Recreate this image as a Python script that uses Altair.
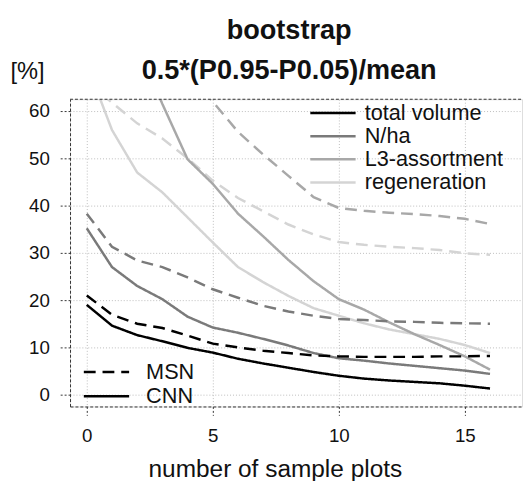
import altair as alt
import pandas as pd

x_vals = list(range(17))
variables = ["total volume", "N/ha", "L3-assortment", "regeneration"]
methods = ["MSN", "CNN"]
colors = ["#000000", "#7a7a7a", "#a8a8a8", "#d4d4d4"]

cnn_total = [19.0, 14.6, 12.6, 11.3, 9.9, 8.9, 7.6, 6.6, 5.7, 4.8, 4.0, 3.4, 3.0, 2.7, 2.4, 1.9, 1.3]
msn_total = [21.0, 16.9, 15.0, 14.1, 12.5, 10.8, 10.0, 9.3, 8.8, 8.3, 8.1, 8.0, 8.0, 8.0, 8.1, 8.1, 8.2]
cnn_nha = [35.2, 27.0, 23.0, 20.2, 16.5, 14.2, 13.1, 11.8, 10.4, 8.8, 7.7, 7.2, 6.6, 6.1, 5.6, 5.1, 4.4]
msn_nha = [38.3, 31.3, 28.4, 27.0, 24.8, 22.3, 20.5, 18.8, 17.6, 16.7, 16.0, 15.8, 15.5, 15.4, 15.2, 15.1, 15.0]
cnn_l3 = [105.0, 88.0, 74.0, 61.5, 49.8, 44.6, 38.3, 33.5, 28.5, 24.0, 20.2, 18.0, 15.3, 12.8, 10.5, 8.1, 5.3]
msn_l3 = [100.0, 92.0, 83.0, 75.0, 68.0, 62.0, 55.6, 50.8, 46.3, 41.8, 39.5, 38.9, 38.5, 38.2, 37.8, 37.2, 36.1]
cnn_regen = [70.0, 56.0, 47.0, 42.8, 37.5, 32.2, 27.0, 23.8, 20.9, 18.3, 16.7, 15.1, 13.8, 12.8, 11.8, 10.5, 8.8]
msn_regen = [66.0, 61.8, 57.4, 54.2, 50.0, 45.3, 41.6, 38.8, 36.0, 33.9, 32.3, 31.7, 31.3, 31.0, 30.6, 29.9, 29.6]

series = [
    ("MSN", "regeneration", msn_regen),
    ("CNN", "regeneration", cnn_regen),
    ("MSN", "L3-assortment", msn_l3),
    ("CNN", "L3-assortment", cnn_l3),
    ("MSN", "N/ha", msn_nha),
    ("CNN", "N/ha", cnn_nha),
    ("MSN", "total volume", msn_total),
    ("CNN", "total volume", cnn_total),
]
rows = []
for k, (m, v, vals) in enumerate(series):
    for xi, yi in zip(x_vals, vals):
        rows.append({"x": xi, "y": yi, "method": m, "variable": v, "z": k})
df = pd.DataFrame(rows)

W, H = 459, 312
FONT = "Liberation Sans"

lines = alt.Chart(df).mark_line(strokeWidth=2.5, clip=True).encode(
    x=alt.X("x:Q",
            scale=alt.Scale(domain=[-0.664, 17.27], nice=False, zero=False),
            axis=alt.Axis(values=[0, 5, 10, 15], title="number of sample plots",
                          grid=True, gridDash=[1, 2], gridColor="#bdbdbd",
                          domainDash=[3, 2], domainColor="#333333",
                          tickSize=9, tickDash=[2, 2], tickColor="#333333",
                          labelFontSize=19, labelPadding=12, labelColor="#111111",
                          titleFontSize=24.8, titleFontWeight="normal", titleColor="#111111",
                          titleX=208, titleY=71, titleAlign="center",
                          titleBaseline="alphabetic")),
    y=alt.Y("y:Q",
            scale=alt.Scale(domain=[-2.5, 62.5], nice=False, zero=False),
            axis=alt.Axis(values=[0, 10, 20, 30, 40, 50, 60], title="[%]",
                          grid=True, gridDash=[1, 2], gridColor="#bdbdbd",
                          domainDash=[3, 2], domainColor="#333333",
                          tickSize=10, tickDash=[2, 2], tickColor="#333333",
                          labelFontSize=19, labelPadding=11, labelColor="#111111",
                          titleFontSize=24, titleFontWeight="normal", titleColor="#111111",
                          titleAngle=0, titleX=-61, titleY=-21, titleAlign="left",
                          titleBaseline="alphabetic")),
    color=alt.Color("variable:N",
                    scale=alt.Scale(domain=variables, range=colors),
                    legend=alt.Legend(title=None, orient="none", legendX=256, legendY=3,
                                      symbolType="M-4,0H4", symbolSize=132.25,
                                      symbolStrokeWidth=2.5, labelOffset=21.25,
                                      labelFontSize=22, labelColor="#111111",
                                      rowPadding=1.5, padding=0)),
    strokeDash=alt.StrokeDash("method:N",
                              scale=alt.Scale(domain=methods, range=[[12, 7], [1, 0]]),
                              legend=alt.Legend(title=None, orient="none", legendX=26, legendY=266,
                                                symbolType="M-4,0H4", symbolSize=132.25,
                                                symbolStrokeWidth=2.5, labelOffset=29.25,
                                                symbolStrokeColor="black",
                                                labelFontSize=22, labelColor="#111111",
                                                rowPadding=2.5, padding=0)),
    order=alt.Order("x:Q"),
)

top_border = alt.Chart(pd.DataFrame({"a": [0]})).mark_rule(
    color="#333333", strokeWidth=1, strokeDash=[3, 2]
).encode(x=alt.value(0), x2=alt.value(W), y=alt.value(0))

chart = alt.layer(lines, top_border).properties(
    width=W, height=H,
    title=alt.Title(["bootstrap", "0.5*(P0.95-P0.05)/mean"], fontSize=27.5,
                    fontWeight="bold", lineHeight=41, anchor="middle", dx=-7,
                    offset=-25, color="#111111", font=FONT),
    autosize=alt.AutoSizeParams(type="none"),
    padding={"left": 63, "top": 89, "right": 2, "bottom": 72},
).configure_view(strokeWidth=0).configure(font=FONT)

chart.save("out.html", embed_options={"renderer": "svg", "actions": False})
